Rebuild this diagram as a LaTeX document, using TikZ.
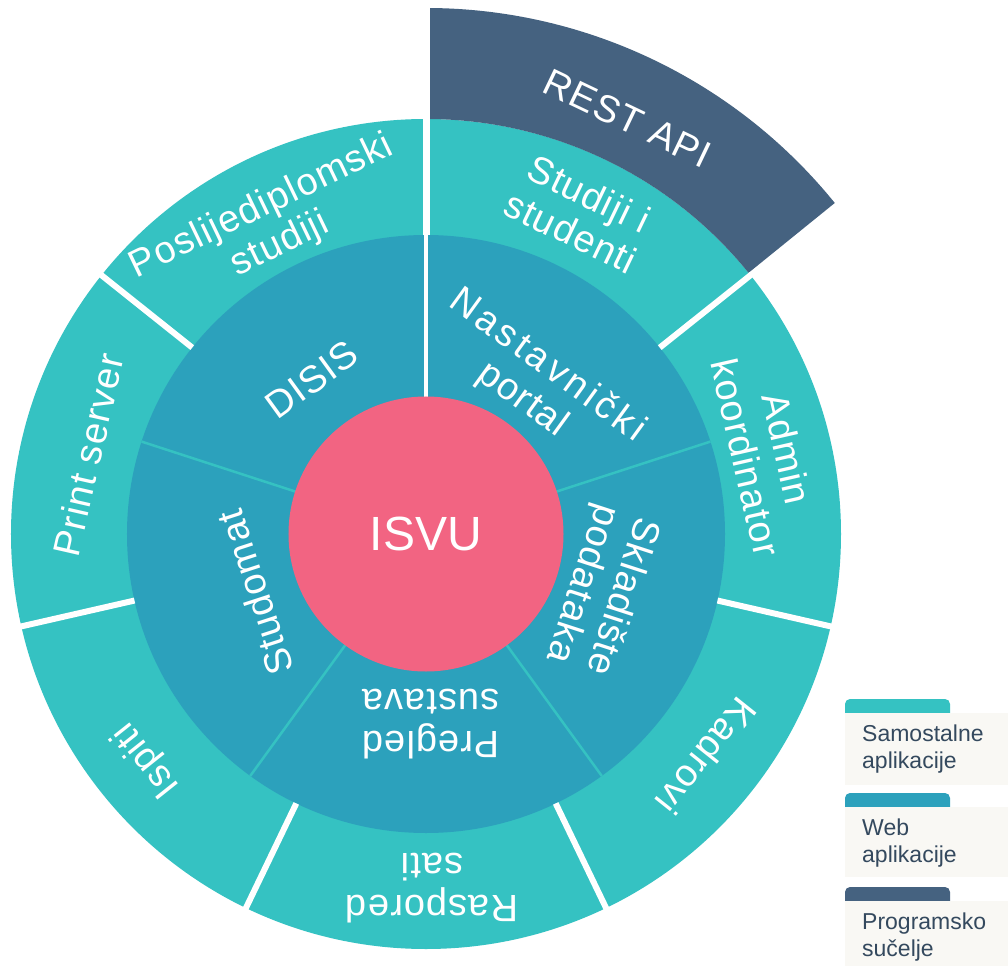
\documentclass[tikz,border=0pt]{standalone}
\usepackage{fontspec}
\setmainfont{Liberation Sans}
\newfontfamily\lblfont[LetterSpace=3]{Liberation Sans}
\newfontfamily\widefont[LetterSpace=10]{Liberation Sans}
\definecolor{outerteal}{HTML}{35C2C2}
\definecolor{webblue}{HTML}{2CA1BC}
\definecolor{isvupink}{HTML}{F26482}
\definecolor{restblue}{HTML}{456280}
\definecolor{legendbg}{HTML}{F9F8F4}
\definecolor{legendtext}{HTML}{34495E}
\tikzset{
  lbl/.style={text=white, align=center, inner sep=0pt,
    font=\lblfont\fontsize{38}{42}\selectfont},
  gapline/.style={white, line width=6pt},
  webline/.style={outerteal, line width=2.5pt},
  legtext/.style={text=legendtext, align=left, inner sep=0pt, anchor=north west,
    font=\fontsize{23}{27}\selectfont},
}
\begin{document}
\begin{tikzpicture}[x=1pt,y=1pt]
\useasboundingbox (-426,-432) rectangle (582,534);
\fill[white] (-426,-432) rectangle (582,534);
% outer ring
\fill[outerteal] (0,0) circle[radius=415pt];
% REST API sector
\fill[restblue] (39:415pt) arc[start angle=39,end angle=90,radius=415pt]
  -- (90:526pt) arc[start angle=90,end angle=39,radius=526pt] -- cycle;
% middle ring
\fill[webblue] (0,0) circle[radius=299pt];
% gaps in outer ring
\foreach \a in {38.57,-12.86,-64.29,-115.71,-167.14,141.43}
  \draw[gapline] (\a:299pt) -- (\a:417pt);
% boundaries of middle ring
\foreach \a in {18,-54,-126,162}
  \draw[webline] (\a:137pt) -- (\a:299pt);
\draw[white, line width=4pt] (90:137pt) -- (90:299pt);
\draw[white, line width=7pt] (90:299pt) -- (90:528pt);
% centre
\node[circle, fill=isvupink, minimum size=275pt, inner sep=0pt, text=white,
  font=\fontsize{48}{52}\selectfont] (isvu) at (0,0) {ISVU};
% outer labels
\node[lbl, rotate=-25.71]  (studiji)  at (64.4:356pt)  {Studiji i\\studenti};
\node[lbl, rotate=-77.14]  (admin)    at (13.4:350pt)  {Admin\\koordinator};
\node[lbl, rotate=-128.57] (kadrovi)  at (-38.4:358pt) {Kadrovi};
\node[lbl, rotate=-180]    (raspored) at (-89:354pt)   {Raspored\\sati};
\node[lbl, rotate=-231.43] (ispiti)   at (-141:359pt)  {Ispiti};
\node[lbl, rotate=77.14]   (print)    at (166.8:347pt) {Print server};
\node[lbl, rotate=25.71]   (posl)     at (116.7:345pt) {Poslijediplomski\\studiji};
\node[lbl, rotate=-25.5]   (rest)     at (64.1:462pt)  {REST API};
% middle labels
\node[lbl, rotate=36]   (disis)    at (126.5:192pt) {DISIS};
\node[lbl, rotate=-36]  (nast)     at (54.2:186pt)  {{\widefont Nastavnički}\\portal};
\node[lbl, rotate=-108] (sklad)    at (-17.7:184pt) {Skladište\\podataka};
\node[lbl, rotate=-180] (pregled)  at (-88.5:190pt) {Pregled\\sustava};
\node[lbl, rotate=108]  (studomat) at (199:181pt)   {Studomat};
% legend
\fill[outerteal] (419,-179) [rounded corners=5pt] -- (419,-165) -- (524,-165) [sharp corners] -- (524,-179) -- cycle;
\fill[legendbg] (419,-251) rectangle (582,-179);
\node[legtext] (leg1) at (436,-191) {Samostalne\\aplikacije};
\fill[webblue] (419,-273) [rounded corners=5pt] -- (419,-259) -- (524,-259) [sharp corners] -- (524,-273) -- cycle;
\fill[legendbg] (419,-343) rectangle (582,-273);
\node[legtext] (leg2) at (436,-285) {Web\\aplikacije};
\fill[restblue] (419,-367) [rounded corners=5pt] -- (419,-353) -- (524,-353) [sharp corners] -- (524,-367) -- cycle;
\fill[legendbg] (419,-432) rectangle (582,-367);
\node[legtext] (leg3) at (436,-379) {Programsko\\sučelje};
\end{tikzpicture}
\end{document}
